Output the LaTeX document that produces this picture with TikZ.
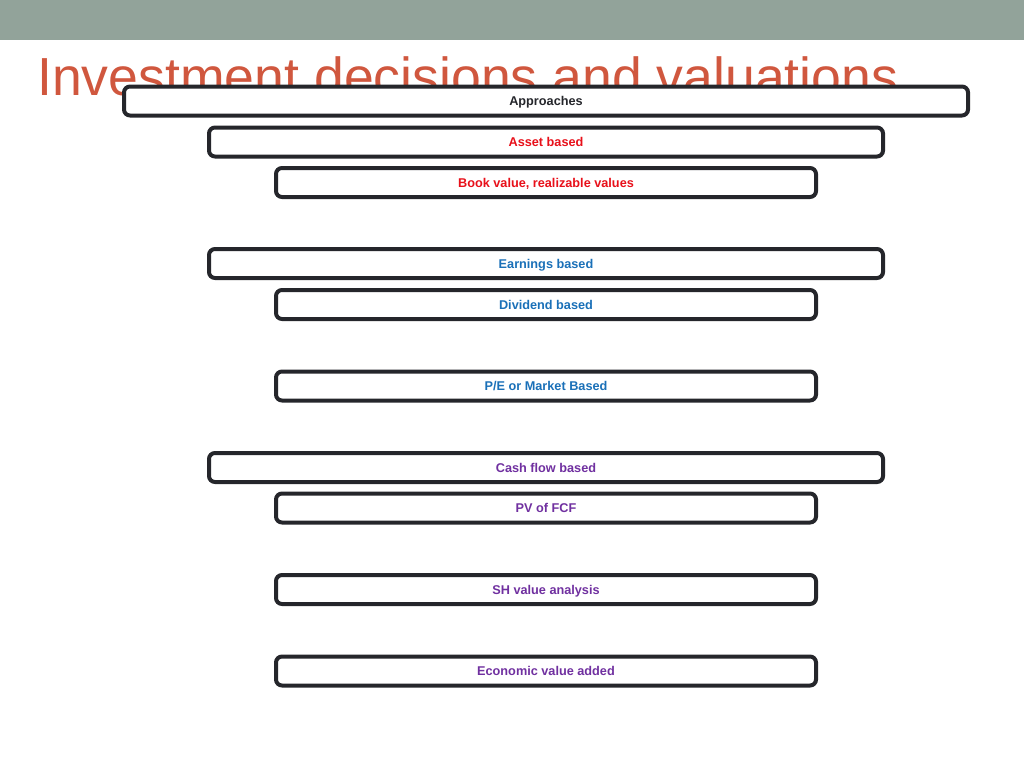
\documentclass[tikz,border=0pt]{standalone}
\usepackage{fontspec}
\setmainfont{Liberation Sans}
\definecolor{bandgrey}{HTML}{92A39A}
\definecolor{titlered}{HTML}{D0573E}
\definecolor{boxline}{HTML}{25262B}
\definecolor{assetred}{HTML}{E8101A}
\definecolor{earnblue}{HTML}{1A70B8}
\definecolor{cashpurple}{HTML}{7030A0}
\tikzset{
  vbox/.style={draw=boxline,line width=4pt,rounded corners=6pt,fill=white,
    minimum height=29pt,inner sep=0pt,text height=9pt,text depth=-1pt,
    font=\fontsize{12.7}{14}\selectfont\bfseries},
  toplevel/.style={vbox,minimum width=844pt},
  midlevel/.style={vbox,minimum width=674pt},
  sublevel/.style={vbox,minimum width=540pt}
}
\begin{document}
\begin{tikzpicture}[x=1pt,y=-1pt]
\useasboundingbox (0,0) rectangle (1024,768);
\fill[bandgrey] (0,0) rectangle (1024,40);
\node[anchor=base west,inner sep=0pt,text=titlered,font=\fontsize{53.6}{60}\selectfont] (title) at (37,95) {Investment decisions and valuations};
\node[toplevel,text=boxline] (approaches) at (546,101) {Approaches};
\node[midlevel,text=assetred] (asset) at (546,142) {Asset based};
\node[sublevel,text=assetred] (book) at (546,182.5) {Book value, realizable values};
\node[midlevel,text=earnblue] (earnings) at (546,263.5) {Earnings based};
\node[sublevel,text=earnblue] (dividend) at (546,304.5) {Dividend based};
\node[sublevel,text=earnblue] (market) at (546,386) {P/E or Market Based};
\node[midlevel,text=cashpurple] (cashflow) at (546,467.5) {Cash flow based};
\node[sublevel,text=cashpurple] (fcf) at (546,508) {PV of FCF};
\node[sublevel,text=cashpurple] (shvalue) at (546,589.5) {SH value analysis};
\node[sublevel,text=cashpurple] (eva) at (546,671) {Economic value added};
\end{tikzpicture}
\end{document}
